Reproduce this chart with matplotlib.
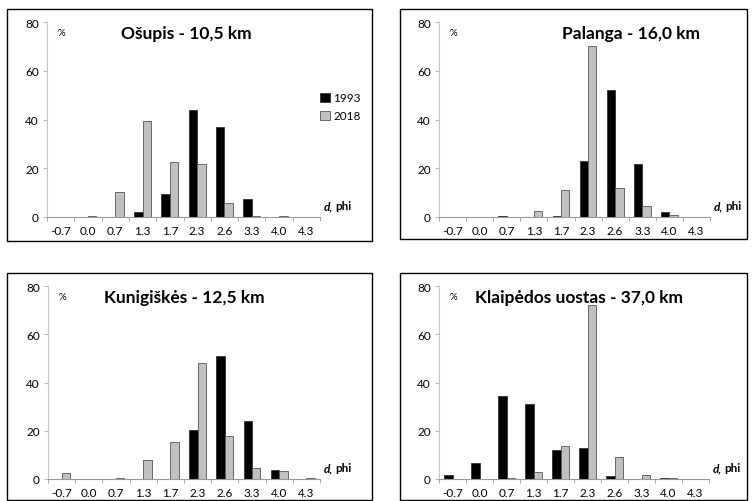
import numpy as np
import matplotlib
matplotlib.use("Agg")
import matplotlib.pyplot as plt
from matplotlib.patches import Rectangle

plt.rcParams['font.family'] = ['Lato', 'DejaVu Sans']

cats = ['-0.7', '0.0', '0.7', '1.3', '1.7', '2.3', '2.6', '3.3', '4.0', '4.3']
titles = ['Ošupis - 10,5 km', 'Palanga - 16,0 km',
          'Kunigiškės - 12,5 km', 'Klaipėdos uostas - 37,0 km']

osupis_1993 = [0, 0, 0, 2.0, 9.3, 44.0, 36.8, 7.2, 0, 0]
osupis_2018 = [0, 0.4, 10.2, 39.2, 22.5, 21.8, 5.7, 0.6, 0.6, 0]
palanga_1993 = [0, 0, 0.3, 0, 0.3, 23.0, 52.3, 21.8, 2.0, 0]
palanga_2018 = [0, 0, 0, 2.5, 11.0, 70.0, 11.8, 4.6, 1.0, 0]
kunig_1993 = [0, 0.2, 0, 0, 0.2, 20.5, 51.0, 24.0, 3.8, 0]
kunig_2018 = [2.5, 0, 0.5, 7.8, 15.3, 48.0, 18.0, 4.6, 3.2, 0.3]
klaip_1993 = [1.5, 6.8, 34.5, 31.0, 12.0, 12.7, 1.3, 0.2, 0.3, 0]
klaip_2018 = [0, 0, 0.3, 3.0, 13.8, 72.0, 9.0, 1.8, 0.6, 0]

series = [(osupis_1993, osupis_2018), (palanga_1993, palanga_2018),
          (kunig_1993, kunig_2018), (klaip_1993, klaip_2018)]

W, H = 755, 502
fig = plt.figure(figsize=(W / 100, H / 100), dpi=100)

# panel boxes (px): left, top, right, bottom
boxes = [(7, 10, 372, 242), (400, 10, 747, 240),
         (7, 274, 372, 501), (400, 274, 747, 501)]
# axes (px): y-axis x, x-axis end, y of 80, y of 0
axpos = [(47, 320, 23, 218), (439, 710, 23, 218),
         (48, 320, 287, 480), (439, 709, 287, 480)]
# title centre (axes fraction)
title_x = [0.51, 0.71, 0.5, 0.52]

for i in range(4):
    l, t, r, b = boxes[i]
    fig.add_artist(Rectangle((l / W, 1 - b / H), (r - l) / W, (b - t) / H,
                             transform=fig.transFigure, fill=False,
                             edgecolor='black', lw=1.0))
    x0, x1, y80, y0 = axpos[i]
    ax = fig.add_axes([x0 / W, 1 - y0 / H, (x1 - x0) / W, (y0 - y80) / H])
    x = np.arange(len(cats))
    w = 0.31
    a, c = series[i]
    ax.bar(x - w / 2, a, w, color='black', edgecolor='#333333', lw=0.6, label='1993')
    ax.bar(x + w / 2, c, w, color='#c0c0c0', edgecolor='#555555', lw=0.6, label='2018')
    ax.set_xlim(-0.5, len(cats) - 0.5)
    ax.set_ylim(0, 80)
    ax.set_yticks([0, 20, 40, 60, 80])
    ax.set_xticks(x)
    ax.set_xticklabels(cats)
    ax.set_xticks(np.arange(-0.5, len(cats)), minor=True)
    ax.tick_params(axis='x', which='major', length=0, labelsize=8.5, pad=6)
    ax.tick_params(axis='x', which='minor', length=3, color='#999999', direction='out')
    ax.tick_params(axis='y', length=3, color='#bbbbbb', labelsize=8.5, pad=3)
    for s in ['top', 'right']:
        ax.spines[s].set_visible(False)
    ax.spines['left'].set_color('#c8c8c8')
    ax.spines['bottom'].set_color('#999999')
    ax.patch.set_alpha(0)
    ax.text(0.04, 0.945, '%', transform=ax.transAxes, fontsize=7, va='center')
    ax.text(title_x[i], 0.945, titles[i], transform=ax.transAxes, fontsize=12.5,
            fontweight='bold', ha='center', va='center')
    ax.annotate('d,', xy=(1.015, 0.03), xycoords='axes fraction', fontsize=8.5,
                fontweight='bold', fontstyle='italic', va='bottom', ha='left')
    ax.annotate('phi', xy=(1.015, 0.03), xycoords='axes fraction', fontsize=8.5,
                fontweight='bold', va='bottom', ha='left',
                xytext=(8, 0), textcoords='offset points')
    if i == 0:
        ax.legend(loc='upper left', bbox_to_anchor=(0.98, 0.67), frameon=False,
                  fontsize=8.5, handlelength=0.8, handleheight=0.8,
                  handletextpad=0.3, labelspacing=0.6, borderpad=0)

fig.savefig('out.png', dpi=100)
